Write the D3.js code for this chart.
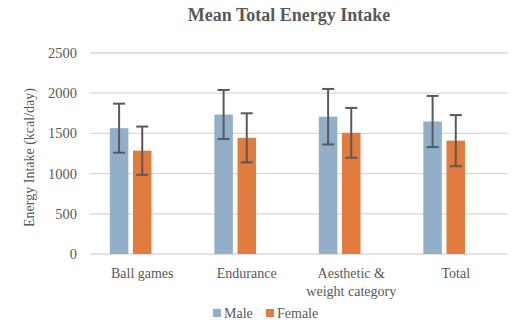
<!DOCTYPE html>
<html><head><meta charset="utf-8">
<script src="https://cdn.jsdelivr.net/npm/d3@7"></script>
<style>body{margin:0;background:#fff}svg{display:block}</style>
</head><body><svg id="c" width="513" height="324"></svg>
<script>
const categories = [["Ball games"], ["Endurance"], ["Aesthetic &", "weight category"], ["Total"]];
const seriesNames = ["Male", "Female"];
const maleMean = [1565, 1735, 1708, 1648];
const maleSD = [305, 305, 345, 318];
const femaleMean = [1285, 1445, 1507, 1410];
const femaleSD = [300, 305, 310, 318];
const yTicks = [0, 500, 1000, 1500, 2000, 2500];
const colors = ["#91afc8", "#e27b3b"];

const svg = d3.select("#c");
const font = "'Liberation Serif', 'DejaVu Serif', serif";
const m = {l: 90, r: 5, t: 53, b: 70};
const W = 513, H = 324;
const x = d3.scaleBand().domain(d3.range(categories.length)).range([m.l, W - m.r]).paddingInner(0).paddingOuter(0);
const y = d3.scaleLinear().domain([0, 2500]).range([254, 53]);
// Excel-like cluster: 3 slots (third empty) with gap
const inner = d3.scaleBand().domain([0, 1, 2]).range([x.bandwidth() * 0.19, x.bandwidth() * 0.81]).paddingInner(0.2);

svg.append("text").attr("x", 289).attr("y", 21).attr("text-anchor", "middle")
  .attr("font-family", font).attr("font-weight", "bold").attr("font-size", 18).attr("fill", "#595959")
  .text("Mean Total Energy Intake");

const g = svg.append("g");
g.selectAll("line.grid").data(yTicks).join("line")
  .attr("x1", m.l).attr("x2", W - m.r).attr("y1", d => y(d)).attr("y2", d => y(d))
  .attr("stroke", "#d9d9d9").attr("stroke-width", 1.3);
g.selectAll("text.yt").data(yTicks).join("text")
  .attr("x", 77).attr("y", d => y(d) + 5).attr("text-anchor", "end")
  .attr("font-family", font).attr("font-size", 14.5).attr("fill", "#595959").text(d => d);

svg.append("text").attr("transform", `translate(34,${(y(0) + y(2500)) / 2 + 4}) rotate(-90)`)
  .attr("text-anchor", "middle").attr("font-family", font).attr("font-size", 14).attr("fill", "#595959")
  .text("Energy Intake (kcal/day)");

const data = [];
categories.forEach((c, i) => {
  data.push({c: i, s: 0, v: maleMean[i], e: maleSD[i]});
  data.push({c: i, s: 1, v: femaleMean[i], e: femaleSD[i]});
});
const bx = d => x(d.c) + inner(d.s);
g.selectAll("rect.bar").data(data).join("rect")
  .attr("x", bx).attr("width", inner.bandwidth())
  .attr("y", d => y(d.v)).attr("height", d => y(0) - y(d.v))
  .attr("fill", d => colors[d.s]);
const eb = g.selectAll("g.err").data(data).join("g").attr("stroke", "#595959").attr("stroke-width", 2);
eb.append("line").attr("x1", d => bx(d) + inner.bandwidth() / 2).attr("x2", d => bx(d) + inner.bandwidth() / 2)
  .attr("y1", d => y(d.v + d.e)).attr("y2", d => y(d.v - d.e));
[1, -1].forEach(sg => {
  eb.append("line").attr("x1", d => bx(d) + inner.bandwidth() / 2 - 6).attr("x2", d => bx(d) + inner.bandwidth() / 2 + 6)
    .attr("y1", d => y(d.v + sg * d.e)).attr("y2", d => y(d.v + sg * d.e));
});

const xl = svg.selectAll("text.xl").data(categories).join("text")
  .attr("text-anchor", "middle").attr("font-family", font).attr("font-size", 14).attr("fill", "#595959");
xl.each(function(lines, i) {
  d3.select(this).selectAll("tspan").data(lines).join("tspan")
    .attr("x", x(i) + x.bandwidth() / 2).attr("y", (d, k) => 278 + k * 18).text(d => d);
});

const leg = svg.append("g");
const lx = [213, 266];
seriesNames.forEach((s, i) => {
  leg.append("rect").attr("x", lx[i]).attr("y", 309).attr("width", 8).attr("height", 8).attr("fill", colors[i]);
  leg.append("text").attr("x", lx[i] + 11).attr("y", 318).attr("font-family", font).attr("font-size", 14)
    .attr("fill", "#595959").text(s);
});
</script></body></html>
